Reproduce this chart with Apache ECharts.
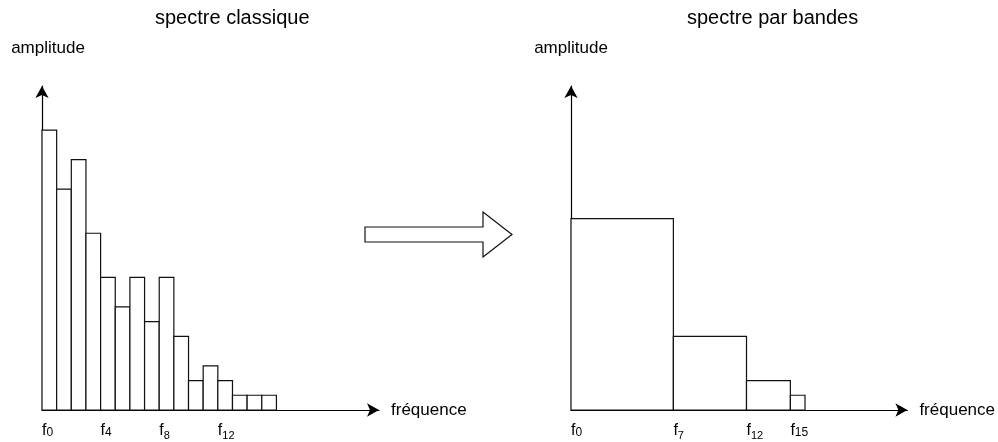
<!DOCTYPE html>
<html>
<head>
<meta charset="utf-8">
<script src="https://cdn.jsdelivr.net/npm/echarts@6/dist/echarts.min.js"></script>
<style>
html, body { margin: 0; padding: 0; background: #fff; }
#main { width: 998px; height: 442px; }
</style>
</head>
<body>
<div id="main"></div>
<script>
// Spectre classique : amplitude de chaque raie f0 .. f15
var classicAmplitudes = [19, 15, 17, 12, 9, 7, 9, 6, 9, 5, 2, 3, 2, 1, 1, 1];
var classicTicks = [0, 4, 8, 12];
// Spectre par bandes : bornes des bandes et amplitude de chaque bande
var bandEdges = [0, 7, 12, 15, 16];
var bandAmplitudes = [13, 5, 2, 1];
var bandTicks = [0, 7, 12, 15];

var font = "'Liberation Sans', Arial, sans-serif";
var lowSub = [7, 8, 12];	// indices drawn a bit lower, as in the sketch

function TickLabel(ticks) {	// f + subscript, only on the listed ticks
	return function(value) {
		if (ticks.indexOf(value) < 0) return '';
		var style = lowSub.indexOf(value) >= 0 ? 'low' : 'sub';
		return '{f|f}{' + style + '|' + value + '}';
	};
}
function RenderRect(params, api) {	// one rectangle from [start, end, amplitude]
	var p0 = api.coord([api.value(0), api.value(2)]);
	var p1 = api.coord([api.value(1), 0]);
	return {
		type: 'rect',
		shape: { x: p0[0], y: p0[1], width: p1[0] - p0[0], height: p1[1] - p0[1] },
		style: { fill: '#fff', stroke: '#111', lineWidth: 1.2 }
	};
}
function XAxis(grid, ticks) {
	return {
		type: 'value', gridIndex: grid, min: 0, max: 23, interval: 1,
		name: 'fréquence', nameLocation: 'end', nameGap: 12,
		nameTextStyle: { color: '#000', fontSize: 17, fontFamily: font, align: 'left', verticalAlign: 'middle', padding: [0, 0, 16, 0] },
		axisLine: { lineStyle: { color: '#000', width: 1.2 }, symbol: ['none', 'arrow'], symbolSize: [10, 12], symbolOffset: [0, 0] },
		axisTick: { show: false },
		splitLine: { show: false },
		axisLabel: {
			margin: 13, align: 'left', showMinLabel: true, showMaxLabel: false, hideOverlap: false,
			formatter: TickLabel(ticks),
			rich: {
				f: { fontSize: 16, color: '#000', fontFamily: font, verticalAlign: 'top' },
				sub: { fontSize: 12, color: '#000', fontFamily: font, verticalAlign: 'bottom' },
				low: { fontSize: 11, color: '#000', fontFamily: font, verticalAlign: 'bottom', padding: [7, 0, 0, 0] }
			}
		}
	};
}
function YAxis(grid, shift) {
	return {
		type: 'value', gridIndex: grid, min: 0, max: 22,
		name: 'amplitude', nameLocation: 'end', nameGap: 38,
		nameTextStyle: { color: '#000', fontSize: 17, fontFamily: font, align: 'center', verticalAlign: 'middle', padding: [0, 0, 0, shift] },
		axisLine: { show: true, lineStyle: { color: '#000', width: 1.2 }, symbol: ['none', 'arrow'], symbolSize: [10, 12], symbolOffset: [0, 0] },
		axisTick: { show: false },
		axisLabel: { show: false },
		splitLine: { show: false }
	};
}

var classicData = [];
for (let i = 0; i < classicAmplitudes.length; i++) {
	classicData.push([i, i + 1, classicAmplitudes[i]]);
}
var bandData = [];
for (let i = 0; i < bandAmplitudes.length; i++) {
	bandData.push([bandEdges[i], bandEdges[i + 1], bandAmplitudes[i]]);
}

var chart = echarts.init(document.getElementById('main'), '', { renderer: 'canvas' });
chart.setOption({
	animation: false,
	backgroundColor: '#fff',
	title: [
		{ text: 'spectre classique', left: 155, top: 8, padding: 0, textStyle: { fontSize: 20, fontWeight: 'normal', color: '#000', fontFamily: font } },
		{ text: 'spectre par bandes', left: 687, top: 8, padding: 0, textStyle: { fontSize: 20, fontWeight: 'normal', color: '#000', fontFamily: font } }
	],
	grid: [
		{ left: 42, top: 86, width: 337, height: 324 },
		{ left: 571, top: 86, width: 337, height: 324 }
	],
	xAxis: [XAxis(0, classicTicks), XAxis(1, bandTicks)],
	yAxis: [YAxis(0, 12), YAxis(1, 0)],
	series: [
		{ type: 'custom', xAxisIndex: 0, yAxisIndex: 0, renderItem: RenderRect, data: classicData, encode: { x: [0, 1], y: 2 } },
		{ type: 'custom', xAxisIndex: 1, yAxisIndex: 1, renderItem: RenderRect, data: bandData, encode: { x: [0, 1], y: 2 } }
	],
	graphic: [{	// transition arrow between the two spectra
		type: 'polygon',
		shape: { points: [[365, 227], [483, 227], [483, 212], [512, 234.5], [483, 257], [483, 242], [365, 242]] },
		style: { fill: '#fff', stroke: '#111', lineWidth: 1.2 }
	}]
});
</script>
</body>
</html>
